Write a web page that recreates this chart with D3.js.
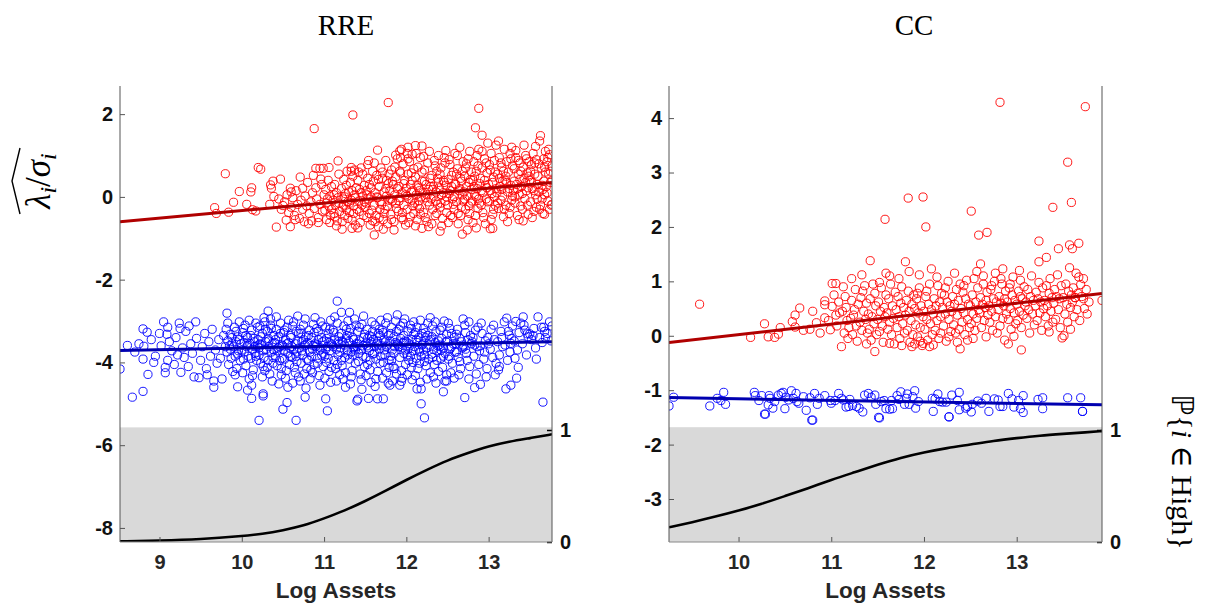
<!DOCTYPE html>
<html><head><meta charset="utf-8">
<script src="https://cdn.jsdelivr.net/npm/d3@7"></script>
<style>body{margin:0;background:#fff}svg{display:block}</style>
</head><body><svg id="c" width="1206" height="606"></svg>
<script>
// ---------- DATA ----------
const panelTitles = ["RRE", "CC"];
const xLabel = "Log Assets";
const rreXTicks = [9, 10, 11, 12, 13];
const rreYTicks = [-8, -6, -4, -2, 0, 2];
const ccXTicks = [10, 11, 12, 13];
const ccYTicks = [-3, -2, -1, 0, 1, 2, 3, 4];
const probTicks = [0, 1];
const rreXLim = [8.52, 13.77], rreYLim = [-8.34, 2.68], rreShadeTop = -5.57;
const ccXLim = [9.25, 13.92], ccYLim = [-3.79, 4.59], ccShadeTop = -1.68;

// fitted lines (x, y)
const rreRedFit = [[8.52, -0.60], [13.77, 0.35]];
const rreBlueFit = [[8.52, -3.71], [13.77, -3.50]];
const ccRedFit = [[9.25, -0.125], [13.92, 0.776]];
const ccBlueFit = [[9.25, -1.136], [13.92, -1.27]];

// probability of High (right axis)
const rreProbX = [8.52, 9, 9.5, 10, 10.25, 10.5, 10.75, 11, 11.25, 11.5, 11.75, 12, 12.25, 12.5, 12.75, 13, 13.25, 13.5, 13.77];
const rreProb = [0.006, 0.012, 0.024, 0.052, 0.072, 0.104, 0.145, 0.21, 0.28, 0.365, 0.458, 0.555, 0.645, 0.73, 0.795, 0.855, 0.896, 0.927, 0.962];
const ccProbX = [9.25, 9.5, 9.75, 10, 10.25, 10.5, 10.75, 11, 11.25, 11.5, 11.75, 12, 12.25, 12.5, 12.75, 13, 13.25, 13.5, 13.75, 13.92];
const ccProb = [0.131, 0.176, 0.226, 0.28, 0.34, 0.41, 0.48, 0.555, 0.622, 0.69, 0.753, 0.80, 0.84, 0.87, 0.904, 0.928, 0.95, 0.965, 0.98, 0.99];

// scatter (flat x,y pairs)
const rreRed = [9.67,-0.26,9.69,-0.40,9.80,0.56,9.84,-0.37,9.90,-0.13,9.97,0.13,10.06,-0.18,10.11,0.12,10.12,0.22,10.13,-0.31,10.17,-0.34,10.20,0.71,10.23,0.67,10.34,-0.18,10.35,0.29,10.36,0.21,10.38,0.38,10.39,0.01,10.42,-0.73,10.47,0.43,10.50,-0.21,10.54,-0.56,10.59,-0.72,10.59,0.21,10.74,0.21,10.76,-0.60,10.85,-0.58,10.88,1.65,10.90,0.69,10.95,0.69,10.99,0.69,10.96,0.43,11.06,0.71,11.17,0.87,11.22,-0.78,11.33,0.71,11.34,-0.76,11.35,1.98,11.37,0.65,11.54,0.88,11.61,-0.92,11.65,1.13,11.78,2.28,11.87,1.01,11.92,1.11,11.94,1.15,12.02,1.20,12.11,1.24,12.19,1.23,12.01,1.05,12.07,1.03,12.84,1.67,12.88,2.14,12.92,1.49,12.68,-0.90,12.74,-0.80,12.85,-0.75,13.02,-0.77,13.05,-0.76,12.41,-0.83,12.19,-0.76,13.68,-0.42,13.77,-0.18,
10.45,-0.05,10.48,-0.30,10.52,-0.12,10.55,0.05,10.57,-0.38,10.60,-0.25,10.62,-0.02,10.64,-0.45,10.66,0.15,10.68,-0.18,10.70,-0.52,10.72,-0.08,10.74,-0.30,10.77,0.02,10.79,-0.22,10.80,0.35,10.82,-0.40,10.84,-0.12,10.86,0.10,10.88,-0.28,10.90,0.22,10.91,-0.05,10.93,-0.50,10.95,-0.18,10.97,0.30,10.98,-0.35,11.00,0.05,10.60,0.12,10.65,-0.55,10.71,0.48,10.81,-0.65,10.87,0.52,10.93,-0.62,
11.01,-0.32,11.02,0.18,11.03,-0.55,11.04,-0.05,11.05,0.40,11.06,-0.22,11.07,0.02,11.08,-0.45,11.09,0.25,11.03,-0.15,11.07,-0.62,11.09,-0.30,
11.11,-0.08,11.12,-0.40,11.13,0.30,11.14,-0.20,11.15,0.10,11.16,-0.58,11.17,-0.02,11.18,0.55,11.19,-0.35,11.12,0.05,11.15,-0.70,11.18,-0.15,11.13,-0.48,
11.21,0.20,11.22,-0.25,11.23,-0.05,11.24,0.42,11.25,-0.45,11.26,0.08,11.27,-0.30,11.28,0.62,11.29,-0.12,11.22,-0.60,11.25,0.00,11.27,0.28,11.29,-0.52,11.24,-0.20,
11.30,0.12,11.31,-0.38,11.32,0.35,11.33,-0.08,11.34,-0.55,11.35,0.50,11.36,-0.22,11.37,0.05,11.38,-0.68,11.39,0.22,11.31,-0.15,11.33,0.62,11.36,-0.40,11.38,-0.02,11.34,0.15,
11.40,-0.30,11.41,0.40,11.42,-0.10,11.43,0.18,11.44,-0.62,11.45,0.70,11.46,-0.20,11.47,0.02,11.48,-0.45,11.49,0.28,11.41,-0.75,11.43,-0.35,11.45,0.10,11.47,0.55,11.49,-0.12,11.42,0.60,
11.50,-0.25,11.51,0.15,11.52,-0.50,11.53,0.45,11.54,-0.05,11.55,0.30,11.56,-0.68,11.57,0.00,11.58,-0.32,11.59,0.62,11.51,-0.15,11.53,0.78,11.55,-0.40,11.57,0.22,11.59,-0.58,11.52,0.05,
11.60,0.38,11.61,-0.20,11.62,0.10,11.63,-0.45,11.64,0.52,11.65,-0.02,11.66,-0.72,11.67,0.25,11.68,-0.30,11.69,0.70,11.62,-0.60,11.64,0.00,11.66,0.42,11.68,-0.12,11.61,0.82,11.67,-0.50,
11.70,-0.18,11.71,0.45,11.72,-0.55,11.73,0.12,11.74,-0.30,11.75,0.88,11.76,0.02,11.77,-0.65,11.78,0.32,11.79,-0.08,11.71,0.60,11.73,-0.40,11.75,0.20,11.77,-0.22,11.79,0.55,11.72,-0.78,11.76,0.40,
11.80,0.15,11.81,-0.42,11.82,0.65,11.83,-0.10,11.84,0.30,11.85,-0.60,11.86,0.05,11.87,0.48,11.88,-0.28,11.89,0.92,11.81,-0.05,11.83,0.38,11.85,-0.80,11.87,-0.15,11.89,0.20,11.82,-0.55,11.86,0.72,
11.90,-0.35,11.91,0.25,11.92,-0.02,11.93,0.58,11.94,-0.50,11.95,0.10,11.96,0.80,11.97,-0.20,11.98,0.40,11.99,-0.68,11.91,-0.10,11.93,0.95,11.95,-0.38,11.97,0.32,11.99,0.05,11.92,0.62,11.96,-0.55,
12.00,0.20,12.01,-0.30,12.02,0.55,12.03,-0.05,12.04,0.85,12.05,-0.48,12.06,0.12,12.07,0.40,12.08,-0.22,12.09,0.68,12.01,0.02,12.03,-0.62,12.05,0.30,12.07,-0.08,12.09,-0.40,12.02,0.92,12.06,0.58,12.08,0.15,
12.10,-0.15,12.11,0.48,12.12,0.05,12.13,-0.55,12.14,0.72,12.15,0.22,12.16,-0.28,12.17,0.95,12.18,0.00,12.19,0.38,12.11,-0.70,12.13,0.28,12.15,-0.10,12.17,-0.42,12.19,0.60,12.12,1.05,12.16,0.15,12.14,-0.20,
12.20,0.10,12.21,-0.38,12.22,0.65,12.23,-0.02,12.24,0.30,12.25,-0.60,12.26,0.82,12.27,0.18,12.28,-0.20,12.29,0.45,12.21,0.98,12.23,-0.50,12.25,0.05,12.27,-0.72,12.29,0.25,12.22,0.38,12.26,-0.12,12.28,1.10,
12.30,-0.05,12.31,0.52,12.32,-0.30,12.33,0.25,12.34,0.88,12.35,-0.45,12.36,0.12,12.37,0.62,12.38,-0.18,12.39,0.35,12.31,-0.65,12.33,0.02,12.35,0.75,12.37,-0.40,12.39,1.00,12.32,0.18,12.36,-0.10,12.38,0.45,
12.40,0.22,12.41,-0.25,12.42,0.70,12.43,0.05,12.44,-0.52,12.45,0.40,12.46,0.95,12.47,-0.10,12.48,0.28,12.49,-0.38,12.41,0.55,12.43,-0.70,12.45,0.10,12.47,0.82,12.49,0.00,12.42,-0.15,12.46,0.35,12.48,1.12,
12.50,-0.20,12.51,0.42,12.52,0.08,12.53,0.78,12.54,-0.45,12.55,0.25,12.56,-0.05,12.57,0.60,12.58,-0.30,12.59,1.05,12.51,-0.62,12.53,0.15,12.55,0.52,12.57,-0.18,12.59,0.32,12.52,0.90,12.56,-0.50,12.58,0.00,
12.60,0.30,12.61,-0.12,12.62,0.68,12.63,-0.40,12.64,0.15,12.65,1.20,12.66,0.45,12.67,-0.25,12.68,0.05,12.69,0.85,12.61,0.55,12.63,-0.65,12.65,0.20,12.67,0.38,12.69,-0.10,12.62,1.00,12.66,-0.45,12.68,0.62,
12.70,0.12,12.71,0.50,12.72,-0.30,12.73,0.80,12.74,0.02,12.75,-0.55,12.76,0.35,12.77,1.10,12.78,-0.15,12.79,0.60,12.71,-0.05,12.73,0.25,12.75,0.92,12.77,-0.40,12.79,0.18,12.72,0.70,12.76,-0.22,12.78,0.42,
12.80,-0.10,12.81,0.40,12.82,0.85,12.83,0.05,12.84,-0.45,12.85,0.62,12.86,0.20,12.87,-0.28,12.88,1.15,12.89,0.32,12.81,-0.62,12.83,0.50,12.85,0.00,12.87,0.75,12.89,-0.15,12.82,0.25,12.86,1.00,12.88,-0.05,
12.90,0.45,12.91,-0.20,12.92,0.70,12.93,0.10,12.94,-0.50,12.95,0.92,12.96,0.28,12.97,-0.05,12.98,0.58,12.99,1.30,12.91,0.15,12.93,-0.38,12.95,0.40,12.97,0.82,12.99,-0.12,12.92,1.10,12.96,-0.65,12.98,0.22,
13.00,0.30,13.01,-0.10,13.02,0.65,13.03,1.05,13.04,0.08,13.05,-0.42,13.06,0.48,13.07,0.88,13.08,-0.20,13.09,0.20,13.01,0.78,13.03,-0.55,13.05,0.35,13.07,0.00,13.09,1.25,13.02,0.15,13.06,-0.30,13.08,0.60,
13.10,0.10,13.11,0.55,13.12,-0.28,13.13,0.95,13.14,0.25,13.15,-0.08,13.16,0.72,13.17,0.38,13.18,-0.48,13.19,1.15,13.11,-0.15,13.13,0.45,13.15,0.82,13.17,0.02,13.19,-0.30,13.12,1.35,13.16,0.18,13.18,0.62,
13.20,0.40,13.21,-0.20,13.22,0.85,13.23,0.12,13.24,0.60,13.25,-0.40,13.26,1.05,13.27,0.28,13.28,-0.08,13.29,0.75,13.21,0.50,13.23,-0.60,13.25,0.20,13.27,0.92,13.29,0.02,13.22,0.35,13.26,-0.25,13.28,1.20,
13.30,0.15,13.31,0.68,13.32,-0.15,13.33,0.95,13.34,0.30,13.35,-0.45,13.36,0.55,13.37,0.05,13.38,0.82,13.39,-0.22,13.31,0.38,13.33,1.12,13.35,0.20,13.37,-0.55,13.39,0.62,13.32,0.00,13.36,0.88,13.38,0.42,
13.40,0.25,13.41,-0.30,13.42,0.72,13.43,0.45,13.44,-0.05,13.45,1.00,13.46,0.15,13.47,0.58,13.48,-0.42,13.49,0.85,13.41,0.08,13.43,1.25,13.45,0.35,13.47,-0.20,13.49,0.50,13.42,-0.58,13.46,0.92,13.48,0.22,
13.50,0.40,13.51,-0.12,13.52,0.78,13.53,0.20,13.54,1.05,13.55,-0.35,13.56,0.55,13.57,0.05,13.58,0.90,13.59,0.30,13.51,0.62,13.53,-0.50,13.55,0.15,13.57,1.22,13.59,-0.05,13.52,0.35,13.56,0.82,13.58,-0.25,
13.60,0.50,13.61,0.12,13.62,1.35,13.63,-0.20,13.64,0.70,13.65,0.28,13.66,-0.40,13.67,0.92,13.68,0.05,13.69,0.60,13.61,0.80,13.63,1.48,13.65,-0.05,13.67,0.38,13.69,1.10,13.62,-0.30,13.66,0.18,13.68,0.72,
13.70,0.25,13.71,0.85,13.72,-0.10,13.73,0.55,13.74,1.02,13.75,0.35,13.76,-0.20,13.77,0.75,13.71,0.10,13.73,1.15,13.75,0.62,13.77,0.40,13.72,0.95,13.74,-0.30];

const rreBlue = [8.52,-4.16,8.61,-3.59,8.67,-4.84,8.80,-4.70,8.80,-3.19,8.85,-3.27,8.81,-3.61,8.80,-3.92,8.86,-4.29,9.00,-3.30,9.05,-3.02,9.09,-3.32,9.07,-4.12,9.07,-4.25,9.24,-3.05,9.25,-3.18,9.26,-4.24,9.44,-3.02,9.42,-4.35,9.48,-4.37,9.66,-4.60,9.66,-4.45,9.76,-4.40,9.82,-2.81,9.95,-4.59,10.07,-4.67,10.12,-4.87,10.26,-4.76,10.26,-4.81,10.21,-5.40,10.50,-5.13,10.55,-4.97,10.66,-5.40,10.77,-4.84,10.32,-2.76,11.16,-2.52,11.04,-5.17,11.02,-4.88,11.21,-2.79,11.31,-2.79,11.40,-4.93,11.41,-4.89,11.54,-4.87,11.65,-4.88,11.72,-4.88,11.80,-4.55,11.94,-4.46,12.18,-5.00,12.22,-5.34,12.13,-4.64,12.18,-4.64,12.45,-4.71,12.49,-4.45,12.71,-4.85,12.83,-4.61,12.90,-4.53,13.21,-4.64,13.27,-4.55,13.34,-4.38,13.66,-4.96,13.22,-2.93,13.33,-3.01,13.42,-2.90,13.60,-2.90,13.67,-3.15,13.77,-3.12,13.69,-3.40,13.47,-3.31,13.50,-3.31,13.25,-3.34,13.27,-3.54,13.13,-4.10,
8.70,-3.75,8.90,-3.45,8.95,-3.85,9.02,-3.60,9.10,-3.95,9.12,-3.50,9.15,-3.72,9.18,-4.05,9.20,-3.40,9.28,-3.65,9.30,-3.88,9.32,-3.25,9.35,-4.10,9.38,-3.55,9.40,-3.78,9.45,-3.42,9.50,-3.95,9.52,-3.62,9.55,-3.30,9.57,-4.15,9.60,-3.50,9.62,-3.85,9.64,-3.20,9.68,-3.70,9.70,-4.02,9.72,-3.45,9.74,-3.90,9.78,-3.35,9.80,-3.62,9.10,-3.15,9.36,-3.12,9.58,-4.30,9.22,-3.82,8.75,-3.55,8.93,-4.00,
9.81,-3.20,9.82,-3.75,9.83,-3.48,9.84,-4.05,9.85,-3.60,9.86,-3.32,9.87,-3.90,9.88,-3.55,9.89,-4.22,9.83,-3.05,9.86,-3.68,9.88,-3.40,
9.90,-3.62,9.91,-3.15,9.92,-3.85,9.93,-3.50,9.94,-4.15,9.95,-3.38,9.96,-3.72,9.97,-3.02,9.98,-3.95,9.99,-3.55,9.92,-4.30,9.95,-3.80,9.97,-3.45,9.93,-3.25,
10.00,-3.70,10.01,-3.28,10.02,-3.92,10.03,-3.52,10.04,-3.10,10.05,-4.08,10.06,-3.62,10.07,-3.40,10.08,-3.85,10.09,-2.98,10.01,-4.25,10.03,-3.75,10.05,-3.35,10.07,-3.58,10.09,-4.40,10.02,-3.18,
10.10,-3.55,10.11,-3.90,10.12,-3.22,10.13,-3.68,10.14,-4.18,10.15,-3.42,10.16,-3.78,10.17,-3.05,10.18,-3.95,10.19,-3.60,10.11,-3.35,10.13,-4.32,10.15,-3.50,10.17,-3.85,10.19,-3.15,10.12,-4.55,10.16,-3.62,
10.20,-3.45,10.21,-3.82,10.22,-3.12,10.23,-4.02,10.24,-3.58,10.25,-3.30,10.26,-3.72,10.27,-2.92,10.28,-4.20,10.29,-3.50,10.21,-3.65,10.23,-3.38,10.25,-4.35,10.27,-3.88,10.29,-3.20,10.22,-3.55,10.26,-4.10,10.28,-3.02,
10.30,-3.68,10.31,-3.25,10.32,-3.95,10.33,-3.48,10.34,-4.28,10.35,-3.10,10.36,-3.75,10.37,-3.55,10.38,-3.88,10.39,-3.35,10.31,-4.12,10.33,-3.62,10.35,-2.95,10.37,-4.45,10.39,-3.70,10.32,-3.42,10.36,-3.18,10.38,-4.02,
10.40,-3.52,10.41,-3.85,10.42,-3.20,10.43,-4.08,10.44,-3.65,10.45,-3.38,10.46,-3.95,10.47,-3.05,10.48,-4.30,10.49,-3.58,10.41,-3.45,10.43,-3.72,10.45,-4.52,10.47,-3.30,10.49,-3.90,10.42,-2.90,10.46,-3.62,10.48,-4.15,
10.50,-3.60,10.51,-3.28,10.52,-3.92,10.53,-3.45,10.54,-4.20,10.55,-3.15,10.56,-3.78,10.57,-3.52,10.58,-4.05,10.59,-3.35,10.51,-3.70,10.53,-4.38,10.55,-3.55,10.57,-2.98,10.59,-3.85,10.52,-3.22,10.56,-4.60,10.58,-3.65,
10.60,-3.40,10.61,-3.88,10.62,-3.12,10.63,-3.70,10.64,-4.12,10.65,-3.55,10.66,-3.25,10.67,-3.98,10.68,-3.48,10.69,-4.35,10.61,-3.62,10.63,-3.02,10.65,-4.25,10.67,-3.75,10.69,-3.30,10.62,-4.50,10.66,-3.85,10.68,-2.88,
10.70,-3.65,10.71,-3.20,10.72,-4.02,10.73,-3.50,10.74,-3.82,10.75,-3.10,10.76,-4.28,10.77,-3.58,10.78,-3.38,10.79,-3.92,10.71,-4.45,10.73,-3.72,10.75,-3.45,10.77,-2.95,10.79,-4.15,10.72,-3.30,10.76,-3.60,10.78,-4.62,
10.80,-3.52,10.81,-3.95,10.82,-3.22,10.83,-3.75,10.84,-4.18,10.85,-3.40,10.86,-3.68,10.87,-3.08,10.88,-4.05,10.89,-3.55,10.81,-3.35,10.83,-4.40,10.85,-3.85,10.87,-3.60,10.89,-2.92,10.82,-3.70,10.86,-4.25,10.88,-3.28,
10.90,-3.62,10.91,-3.18,10.92,-3.90,10.93,-3.45,10.94,-4.32,10.95,-3.70,10.96,-3.02,10.97,-3.82,10.98,-3.50,10.99,-4.10,10.91,-3.58,10.93,-3.25,10.95,-4.55,10.97,-3.40,10.99,-3.78,10.92,-4.02,10.96,-3.65,10.98,-3.12,
11.00,-3.48,11.01,-3.85,11.02,-3.15,11.03,-4.00,11.04,-3.62,11.05,-3.30,11.06,-4.22,11.07,-3.72,11.08,-2.98,11.09,-3.55,11.01,-4.38,11.03,-3.42,11.05,-3.90,11.07,-3.20,11.09,-4.12,11.02,-3.68,11.06,-3.52,11.08,-4.48,
11.10,-3.58,11.11,-3.22,11.12,-3.95,11.13,-3.45,11.14,-4.15,11.15,-3.68,11.16,-3.05,11.17,-3.82,11.18,-3.38,11.19,-4.30,11.11,-3.62,11.13,-2.90,11.15,-4.45,11.17,-3.50,11.19,-3.75,11.12,-3.28,11.16,-4.05,11.18,-3.55,
11.20,-3.65,11.21,-3.30,11.22,-4.08,11.23,-3.52,11.24,-3.12,11.25,-3.88,11.26,-4.25,11.27,-3.42,11.28,-3.72,11.29,-3.00,11.21,-3.95,11.23,-4.40,11.25,-3.58,11.27,-3.20,11.29,-3.82,11.22,-3.48,11.26,-4.60,11.28,-3.35,
11.30,-3.50,11.31,-3.92,11.32,-3.18,11.33,-3.75,11.34,-4.20,11.35,-3.40,11.36,-3.65,11.37,-2.95,11.38,-4.02,11.39,-3.55,11.31,-3.28,11.33,-4.35,11.35,-3.82,11.37,-3.62,11.39,-3.10,11.32,-4.52,11.36,-3.45,11.38,-3.70,
11.40,-3.62,11.41,-3.25,11.42,-3.98,11.43,-3.48,11.44,-4.28,11.45,-3.70,11.46,-3.08,11.47,-3.85,11.48,-3.40,11.49,-4.10,11.41,-3.55,11.43,-3.15,11.45,-4.42,11.47,-3.60,11.49,-3.32,11.42,-3.78,11.46,-4.65,11.48,-2.88,
11.50,-3.55,11.51,-3.88,11.52,-3.20,11.53,-4.05,11.54,-3.65,11.55,-3.35,11.56,-4.18,11.57,-3.50,11.58,-3.02,11.59,-3.80,11.51,-4.32,11.53,-3.42,11.55,-3.72,11.57,-4.48,11.59,-3.25,11.52,-3.60,11.56,-3.95,11.58,-3.38,
11.60,-3.45,11.61,-3.78,11.62,-3.10,11.63,-3.92,11.64,-3.55,11.65,-4.22,11.66,-3.30,11.67,-3.68,11.68,-4.02,11.69,-2.98,11.61,-3.62,11.63,-4.40,11.65,-3.48,11.67,-3.20,11.69,-3.85,11.62,-4.58,11.66,-3.58,11.68,-3.35,
11.70,-3.60,11.71,-3.22,11.72,-4.00,11.73,-3.45,11.74,-3.82,11.75,-3.05,11.76,-4.25,11.77,-3.58,11.78,-3.35,11.79,-3.95,11.71,-4.38,11.73,-3.70,11.75,-3.50,11.77,-2.92,11.79,-4.12,11.72,-3.28,11.76,-3.62,11.78,-4.50,
11.80,-3.48,11.81,-3.85,11.82,-3.15,11.83,-3.70,11.84,-4.10,11.85,-3.38,11.86,-3.62,11.87,-3.00,11.88,-4.28,11.89,-3.55,11.81,-3.30,11.83,-4.45,11.85,-3.78,11.87,-3.52,11.89,-2.85,11.82,-3.95,11.86,-4.15,11.88,-3.25,
11.90,-3.58,11.91,-3.20,11.92,-3.88,11.93,-3.42,11.94,-4.20,11.95,-3.65,11.96,-3.05,11.97,-3.78,11.98,-3.48,11.99,-4.05,11.91,-3.62,11.93,-3.12,11.95,-4.38,11.97,-3.35,11.99,-3.70,11.92,-4.55,11.96,-3.52,11.98,-2.95,
12.00,-3.50,12.01,-3.82,12.02,-3.25,12.03,-3.95,12.04,-3.60,12.05,-3.10,12.06,-4.12,12.07,-3.45,12.08,-3.72,12.09,-3.02,12.01,-4.30,12.03,-3.55,12.05,-3.85,12.07,-4.42,12.09,-3.32,12.02,-3.68,12.06,-3.18,12.08,-4.00,
12.10,-3.62,12.11,-3.28,12.12,-3.90,12.13,-3.52,12.14,-4.15,12.15,-3.40,12.16,-3.75,12.17,-2.98,12.18,-3.85,12.19,-3.58,12.11,-4.32,12.13,-3.15,12.15,-3.68,12.17,-4.48,12.19,-3.30,12.12,-3.45,12.16,-4.02,
12.20,-3.55,12.21,-3.18,12.22,-3.82,12.23,-3.40,12.24,-4.08,12.25,-3.65,12.26,-3.05,12.27,-3.92,12.28,-3.48,12.29,-4.25,12.21,-3.70,12.23,-3.28,12.25,-4.40,12.27,-3.58,12.29,-2.92,12.22,-3.98,12.26,-3.35,
12.30,-3.45,12.31,-3.80,12.32,-3.12,12.33,-3.68,12.34,-4.05,12.35,-3.52,12.36,-3.25,12.37,-3.95,12.38,-3.60,12.39,-4.22,12.31,-3.38,12.33,-4.35,12.35,-3.02,12.37,-3.72,12.39,-3.48,12.32,-3.88,12.36,-4.50,
12.40,-3.58,12.41,-3.22,12.42,-3.90,12.43,-3.42,12.44,-4.12,12.45,-3.65,12.46,-3.00,12.47,-3.78,12.48,-3.50,12.49,-4.30,12.41,-3.62,12.43,-3.15,12.45,-3.85,12.47,-4.45,12.49,-3.32,12.42,-3.70,
12.50,-3.48,12.52,-3.85,12.53,-3.18,12.55,-3.62,12.56,-4.02,12.58,-3.40,12.59,-3.75,12.51,-3.05,12.54,-4.25,12.57,-3.55,12.51,-3.92,12.55,-3.30,12.58,-4.38,12.53,-3.68,
12.60,-3.55,12.62,-3.20,12.63,-3.88,12.65,-3.42,12.66,-4.15,12.68,-3.65,12.69,-2.95,12.61,-3.75,12.64,-4.30,12.67,-3.50,12.61,-3.32,12.65,-3.98,12.69,-3.58,
12.70,-3.62,12.72,-3.28,12.74,-3.95,12.75,-3.45,12.77,-4.10,12.79,-3.55,12.71,-3.10,12.73,-3.78,12.76,-4.40,12.78,-3.35,12.72,-3.68,12.76,-3.02,
12.80,-3.50,12.82,-3.85,12.84,-3.22,12.86,-3.62,12.88,-4.05,12.81,-3.40,12.85,-4.28,12.87,-3.15,12.89,-3.72,12.83,-3.58,
12.90,-3.60,12.92,-3.30,12.94,-3.92,12.96,-3.48,12.98,-4.15,12.91,-3.05,12.95,-3.75,12.97,-4.35,12.99,-3.40,
13.00,-3.55,13.03,-3.20,13.05,-3.88,13.07,-3.45,13.09,-4.02,13.02,-3.68,13.06,-3.10,13.08,-4.30,
13.11,-3.50,13.13,-3.82,13.15,-3.25,13.17,-3.62,13.19,-3.02,13.12,-4.18,13.16,-3.40,
13.20,-3.58,13.24,-3.25,13.26,-3.75,13.28,-3.42,13.23,-3.95,13.29,-3.12,
13.31,-3.48,13.35,-3.70,13.37,-3.28,13.39,-3.05,13.32,-3.90,13.36,-4.12,
13.41,-3.55,13.44,-3.22,13.46,-3.82,13.48,-3.38,13.43,-3.10,
13.52,-3.45,13.55,-3.18,13.57,-3.65,13.58,-3.92,13.54,-3.35,
13.62,-3.40,13.64,-3.15,13.65,-3.52,13.68,-3.25,
13.71,-3.30,13.74,-3.02,13.76,-3.48];

const ccRed = [9.58,0.58,10.13,-0.03,10.32,-0.02,10.39,-0.03,10.43,0.03,10.58,0.26,10.61,0.38,10.66,0.51,10.61,0.16,10.77,0.12,10.84,0.24,10.93,0.64,10.93,0.57,10.93,0.33,10.99,0.11,11.01,0.54,11.01,0.96,11.05,0.96,11.05,0.38,11.11,-0.20,11.47,-0.29,11.38,-0.15,11.80,1.36,11.59,1.15,13.92,0.65,
12.82,4.29,13.74,4.21,13.55,3.19,11.83,2.53,11.99,2.55,11.58,2.14,12.02,2.00,12.51,2.29,13.39,2.36,13.59,2.45,12.59,1.85,12.68,1.90,13.24,1.74,13.45,1.60,13.57,1.67,13.60,1.60,13.67,1.70,13.32,1.44,13.24,1.36,12.61,1.32,12.85,1.23,13.03,1.20,12.08,1.23,11.95,1.12,12.39,-0.24,13.05,-0.26,12.91,-0.15,12.97,-0.01,13.49,-0.04,13.51,0.00,13.58,0.12,13.35,0.07,11.63,-0.14,11.90,-0.15,11.99,-0.14,12.10,-0.17,13.69,0.94,13.67,1.08,13.63,0.70,13.72,0.68,
10.28,0.22,10.45,0.15,10.70,0.10,10.80,0.45,10.88,0.05,10.97,0.28,11.03,0.75,11.06,0.18,11.08,0.62,11.09,0.42,
11.12,0.45,11.14,0.05,11.15,0.72,11.17,0.28,11.18,-0.05,11.13,0.90,11.16,0.52,11.19,0.15,
11.21,0.32,11.22,0.65,11.23,0.02,11.25,0.48,11.26,0.85,11.27,0.18,11.28,-0.10,11.29,0.58,11.24,0.38,11.22,1.05,
11.31,0.25,11.32,0.70,11.33,0.10,11.35,0.45,11.36,0.92,11.37,0.30,11.38,0.60,11.39,0.05,11.34,0.82,11.33,1.12,
11.40,0.40,11.41,0.12,11.42,0.68,11.43,-0.08,11.44,0.35,11.45,0.95,11.46,0.22,11.48,0.55,11.49,0.02,11.47,0.78,11.42,1.38,
11.50,0.30,11.51,0.62,11.52,0.08,11.53,0.45,11.54,0.88,11.55,0.18,11.56,-0.12,11.57,0.52,11.58,0.35,11.59,0.75,11.52,0.98,
11.60,0.42,11.61,0.12,11.62,0.68,11.63,0.25,11.64,0.95,11.65,0.02,11.66,0.55,11.67,0.32,11.68,-0.15,11.69,0.80,11.63,1.10,
11.70,0.48,11.71,0.15,11.72,0.72,11.73,0.35,11.74,-0.05,11.75,0.60,11.76,0.90,11.77,0.22,11.78,0.52,11.79,0.05,11.73,1.05,11.76,-0.18,
11.80,0.38,11.81,0.65,11.82,0.10,11.83,0.82,11.84,0.45,11.85,-0.12,11.86,0.28,11.87,0.58,11.88,0.02,11.89,0.75,11.84,1.18,11.87,-0.20,
11.90,0.50,11.91,0.20,11.92,0.68,11.93,-0.02,11.94,0.42,11.95,0.88,11.96,0.15,11.97,0.55,11.98,-0.18,11.99,0.35,11.93,0.78,11.96,-0.10,
12.00,0.45,12.01,0.12,12.02,0.72,12.03,0.30,12.04,-0.08,12.05,0.58,12.06,0.95,12.07,0.22,12.08,0.48,12.09,0.02,12.03,0.82,12.06,-0.20,
12.10,0.40,12.11,0.68,12.12,0.10,12.13,0.55,12.14,0.28,12.15,0.92,12.16,-0.05,12.17,0.62,12.18,0.35,12.19,0.78,12.14,1.08,12.18,0.05,
12.20,0.52,12.21,0.18,12.22,0.75,12.23,0.40,12.24,-0.10,12.25,0.62,12.26,1.00,12.27,0.30,12.28,0.55,12.29,0.08,12.23,0.88,12.27,-0.02,
12.30,0.45,12.31,0.72,12.32,0.20,12.33,0.58,12.34,0.05,12.35,0.85,12.36,0.38,12.37,0.65,12.38,0.12,12.39,0.95,12.33,1.15,12.36,-0.12,
12.40,0.50,12.41,0.25,12.42,0.80,12.43,0.42,12.44,0.02,12.45,0.68,12.46,1.02,12.47,0.30,12.48,0.58,12.49,0.15,12.43,0.92,12.47,-0.08,
12.50,0.55,12.51,0.22,12.52,0.75,12.53,0.40,12.54,1.05,12.55,0.10,12.56,0.62,12.57,0.32,12.58,0.88,12.59,0.48,12.53,-0.05,12.57,1.18,
12.60,0.42,12.61,0.70,12.62,0.15,12.63,0.58,12.64,0.95,12.65,0.28,12.66,0.52,12.67,-0.02,12.68,0.80,12.69,0.38,12.64,1.10,12.67,0.65,
12.70,0.55,12.71,0.25,12.72,0.85,12.73,0.45,12.74,0.10,12.75,0.68,12.76,1.00,12.77,0.35,12.78,0.62,12.79,0.05,12.73,0.92,12.77,1.15,
12.80,0.48,12.81,0.72,12.82,0.18,12.83,0.60,12.84,0.95,12.85,0.32,12.86,0.55,12.87,-0.08,12.88,0.82,12.89,0.40,12.83,1.05,12.87,0.68,
12.90,0.62,12.91,0.30,12.92,0.88,12.93,0.50,12.94,0.12,12.95,0.75,12.96,1.08,12.97,0.42,12.98,0.65,12.99,0.22,12.93,0.95,
13.00,0.58,13.01,0.28,13.02,0.82,13.03,0.45,13.04,1.02,13.05,0.15,13.06,0.68,13.07,0.38,13.08,0.90,13.09,0.55,13.04,0.72,
13.10,0.62,13.11,0.32,13.12,0.85,13.13,0.48,13.14,0.05,13.15,0.72,13.16,1.10,13.17,0.40,13.18,0.65,13.19,0.20,
13.20,0.55,13.21,0.80,13.22,0.28,13.23,0.68,13.24,0.98,13.25,0.42,13.26,0.62,13.27,0.10,13.28,0.88,13.29,0.50,
13.30,0.65,13.31,0.35,13.32,0.92,13.33,0.55,13.34,0.18,13.35,0.78,13.36,1.05,13.37,0.45,13.38,0.70,13.39,0.25,
13.40,0.60,13.41,0.85,13.42,0.30,13.43,0.72,13.44,1.12,13.45,0.48,13.46,0.68,13.47,0.15,13.48,0.92,
13.50,0.70,13.52,0.40,13.53,0.95,13.54,0.58,13.55,0.25,13.56,0.82,13.57,1.25,13.58,0.52,13.59,0.75,
13.60,0.62,13.61,0.88,13.62,0.35,13.63,0.70,13.64,1.15,13.65,0.48,13.66,0.78,13.68,0.28,
13.70,0.72,13.72,1.05,13.73,0.50,13.75,0.85,13.78,0.62,13.76,0.40];

const ccBlue = [9.25,-1.29,9.30,-1.13,9.69,-1.29,9.77,-1.15,9.81,-1.19,9.84,-1.04,9.86,-1.26,
10.17,-1.04,10.18,-1.10,10.22,-1.19,10.25,-1.10,10.29,-1.44,10.32,-1.27,10.33,-1.10,10.34,-1.15,10.37,-1.33,10.39,-1.21,10.43,-1.09,10.46,-1.06,10.48,-1.04,10.50,-1.34,10.51,-1.13,10.54,-1.18,10.57,-1.01,10.59,-1.15,10.62,-1.06,10.63,-1.21,10.65,-1.24,10.73,-1.37,10.77,-1.14,10.80,-1.55,10.82,-1.06,10.85,-1.26,10.87,-1.15,10.93,-1.10,10.99,-1.19,11.04,-1.19,11.08,-1.06,11.11,-1.15,11.13,-1.18,11.16,-1.31,11.19,-1.30,11.20,-1.17,11.23,-1.28,11.27,-1.30,11.30,-1.33,11.34,-1.40,11.36,-1.09,11.40,-1.06,11.43,-1.13,11.47,-1.09,11.48,-1.26,11.51,-1.50,11.54,-1.21,11.57,-1.19,11.59,-1.34,11.63,-1.35,11.65,-1.19,11.66,-1.34,11.71,-1.10,11.73,-1.17,11.75,-1.03,11.79,-1.26,11.81,-1.15,11.82,-1.07,11.84,-1.26,11.90,-1.01,11.91,-1.33,11.94,-1.21,12.09,-1.15,12.10,-1.39,12.12,-1.16,12.15,-1.07,12.17,-1.21,12.20,-1.22,12.24,-1.22,12.27,-1.49,12.30,-1.09,12.36,-1.19,12.38,-1.04,12.38,-1.36,12.45,-1.33,12.47,-1.30,12.51,-1.40,12.52,-1.26,12.62,-1.24,12.67,-1.15,12.70,-1.39,12.76,-1.16,12.80,-1.18,12.82,-1.30,12.85,-1.30,12.91,-1.06,12.97,-1.31,13.02,-1.19,13.04,-1.34,13.07,-1.10,13.07,-1.41,13.23,-1.17,13.28,-1.14,13.28,-1.34,13.55,-1.14,13.69,-1.14,13.71,-1.39,
10.28,-1.44,10.79,-1.55,11.52,-1.51,12.27,-1.49,13.71,-1.39,10.70,-1.12,11.00,-1.24,11.88,-1.12,12.58,-1.20,12.95,-1.16];

// ---------- DRAW ----------
const svg = d3.select("#c");
svg.append("rect").attr("width",1206).attr("height",606).attr("fill","#fff");
const pairs = a => d3.range(0, a.length, 2).map(i => [a[i], a[i+1]]);
const fmt = d => String(d);
const tickFont = "'Liberation Sans', Arial, sans-serif";

const panels = [
  {title: panelTitles[0], titleX: 346, left: 120, right: 552, xLim: rreXLim, yLim: rreYLim, xTicks: rreXTicks, yTicks: rreYTicks,
   shade: rreShadeTop, red: rreRed, blue: rreBlue, redFit: rreRedFit, blueFit: rreBlueFit, px: rreProbX, p: rreProb},
  {title: panelTitles[1], titleX: 914, left: 669, right: 1102, xLim: ccXLim, yLim: ccYLim, xTicks: ccXTicks, yTicks: ccYTicks,
   shade: ccShadeTop, red: ccRed, blue: ccBlue, redFit: ccRedFit, blueFit: ccBlueFit, px: ccProbX, p: ccProb}
];
const plotTop = 86, plotBottom = 542;

panels.forEach((P, k) => {
  const x = d3.scaleLinear().domain(P.xLim).range([P.left, P.right]);
  const y = d3.scaleLinear().domain(P.yLim).range([plotBottom, plotTop]);
  const yp = d3.scaleLinear().domain([0, 1]).range([plotBottom, 430]);
  const g = svg.append("g");
  const cid = "clip" + k;
  svg.append("clipPath").attr("id", cid).append("rect")
    .attr("x", P.left).attr("y", plotTop).attr("width", P.right - P.left).attr("height", plotBottom - plotTop);

  g.append("rect").attr("x", P.left).attr("y", y(P.shade)).attr("width", P.right - P.left)
    .attr("height", plotBottom - y(P.shade)).attr("fill", "#d9d9d9");

  const pts = P.px.map((v, i) => [v, P.p[i]]);
  g.append("path").datum(pts).attr("clip-path", `url(#${cid})`)
    .attr("d", d3.line().x(d => x(d[0])).y(d => yp(d[1])).curve(d3.curveBasis))
    .attr("fill", "none").attr("stroke", "#000").attr("stroke-width", 2.6);

  const sc = g.append("g").attr("clip-path", `url(#${cid})`);
  sc.selectAll("circle.b").data(pairs(P.blue)).join("circle").attr("class","b")
    .attr("cx", d => x(d[0])).attr("cy", d => y(d[1])).attr("r", 4.1)
    .attr("fill", "none").attr("stroke", "#0000ff").attr("stroke-width", 0.9);
  sc.selectAll("circle.r").data(pairs(P.red)).join("circle").attr("class","r")
    .attr("cx", d => x(d[0])).attr("cy", d => y(d[1])).attr("r", 4.1)
    .attr("fill", "none").attr("stroke", "#ff0000").attr("stroke-width", 0.9);

  const ln = d3.line().x(d => x(d[0])).y(d => y(d[1]));
  sc.append("path").datum(P.redFit).attr("d", ln).attr("stroke", "#b00000").attr("stroke-width", 3).attr("fill","none");
  sc.append("path").datum(P.blueFit).attr("d", ln).attr("stroke", "#0000b0").attr("stroke-width", 3).attr("fill","none");

  const axCol = "#555";
  const xa = g.append("g").attr("transform", `translate(0,${plotBottom})`)
    .call(d3.axisBottom(x).tickValues(P.xTicks).tickFormat(fmt).tickSizeInner(-5).tickSizeOuter(0).tickPadding(13));
  const ya = g.append("g").attr("transform", `translate(${P.left},0)`)
    .call(d3.axisLeft(y).tickValues(P.yTicks).tickFormat(fmt).tickSizeInner(-5).tickSizeOuter(0).tickPadding(7));
  const ra = g.append("g").attr("transform", `translate(${P.right},0)`)
    .call(d3.axisRight(yp).tickValues(probTicks).tickFormat(fmt).tickSizeInner(-5).tickSizeOuter(0).tickPadding(8));
  [xa, ya, ra].forEach(a => {
    a.select(".domain").remove();
    a.selectAll(".tick line").attr("stroke", axCol).attr("stroke-width", 1);
    a.selectAll("text").attr("font-family", tickFont).attr("font-weight", "bold").attr("font-size", 20).attr("fill", "#111");
  });
  ra.selectAll(".tick line").attr("stroke", "#000").attr("stroke-width", 1.5);
  xa.selectAll("text").attr("fill", "#262626");
  g.append("line").attr("x1", P.left).attr("x2", P.left).attr("y1", plotTop).attr("y2", plotBottom).attr("stroke", axCol).attr("stroke-width", 1);
  g.append("line").attr("x1", P.right).attr("x2", P.right).attr("y1", plotTop).attr("y2", plotBottom).attr("stroke", axCol).attr("stroke-width", 1);
  g.append("line").attr("x1", P.left).attr("x2", P.right).attr("y1", plotBottom).attr("y2", plotBottom).attr("stroke", "#888").attr("stroke-width", 1);

  g.append("text").attr("x", (P.left + P.right) / 2).attr("y", 598).attr("text-anchor", "middle")
    .attr("font-family", tickFont).attr("font-weight", "bold").attr("font-size", 22.5).attr("fill", "#262626").text(xLabel);
  g.append("text").attr("x", P.titleX).attr("y", 35).attr("text-anchor", "middle")
    .attr("font-family", "'Liberation Serif', 'DejaVu Serif', serif").attr("font-size", 29).attr("fill", "#000").text(P.title);
});

const serif = "'Liberation Serif', 'DejaVu Serif', serif";
const yl = svg.append("g").attr("transform", "translate(50,181) rotate(-90)");
const t = yl.append("text").attr("text-anchor", "middle").attr("font-family", serif).attr("font-size", 35).attr("fill", "#000");
t.append("tspan").attr("font-style", "italic").text("λ");
t.append("tspan").attr("font-style", "italic").attr("font-size", 24).attr("dy", 6).text("i");
t.append("tspan").attr("dy", -6).text("/");
t.append("tspan").attr("font-style", "italic").text("σ");
t.append("tspan").attr("font-style", "italic").attr("font-size", 24).attr("dy", 6).text("i");
yl.append("path").attr("d", "M-33,-30 L0,-38 L33,-30").attr("fill", "none").attr("stroke", "#000").attr("stroke-width", 1.4);

const rl = svg.append("g").attr("transform", "translate(1172,472) rotate(90)");
const rt = rl.append("text").attr("text-anchor", "middle").attr("font-family", serif).attr("font-size", 30).attr("fill", "#000");
rt.append("tspan").attr("font-family", "'DejaVu Sans', sans-serif").text("ℙ");
rt.append("tspan").text("{");
rt.append("tspan").attr("font-style", "italic").text("i");
rt.append("tspan").text(" ∈ High");
rt.append("tspan").text("}");
</script></body></html>
